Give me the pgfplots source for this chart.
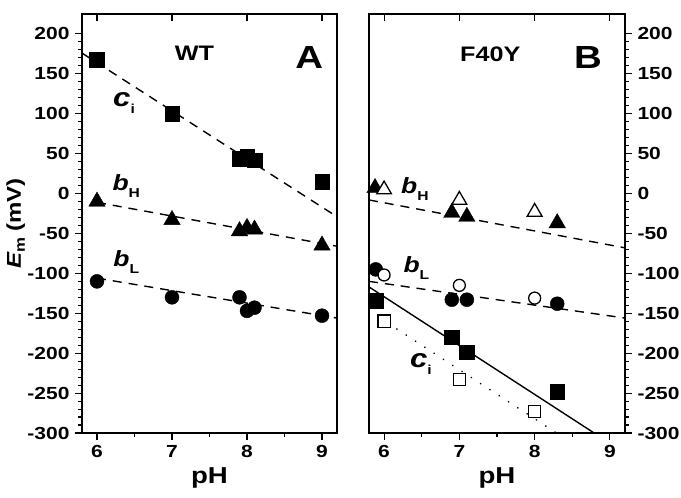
\documentclass[border=0pt]{standalone}
\usepackage{pgfplots}
\pgfplotsset{compat=1.18}
\usepackage{fontspec}
\setmainfont[FakeStretch=1.2]{Liberation Sans}

\newcommand{\fs}[1]{\fontsize{#1}{#1}\selectfont\bfseries}
\newcommand{\sym}[3]{{\fs{#1}\itshape #2}\raisebox{-7pt}{\fs{13}#3}}

\pgfplotsset{
  panel/.style={
    scale only axis, height=419pt,
    xmin=5.8, xmax=9.2, ymin=-300, ymax=225,
    xtick={6,7,8,9}, ytick={-300,-250,...,200},
    minor x tick num=1, minor y tick num=4,
    xtick pos=bottom, tick align=outside,
    major tick length=7pt, minor tick length=4pt,
    every tick/.style={black, line width=1.1pt},
    axis line style={line width=1.3pt},
    tick label style={font=\fs{17.5}},
    xticklabel style={yshift=-2pt},
    /pgf/number format/assume math mode=true,
    xlabel={pH},
    xlabel style={font=\fs{23}, at={(axis description cs:0.5,-0.107)}, anchor=center},
  },
  topticks/.style={
    scale only axis, height=419pt,
    xmin=5.8, xmax=9.2, ymin=-300, ymax=225,
    axis x line*=top, hide y axis,
    xtick={6,7,8,9}, xticklabels={}, tick align=inside,
    major tick length=7pt,
    every tick/.style={black, line width=1.1pt},
    axis line style={draw=none},
  },
  fit/.style={black, line width=1.4pt, dash pattern=on 9pt off 7pt},
  fsq/.style={only marks, mark=square*, mark size=7.3pt, mark options={fill=black, draw=black}},
  ftri/.style={only marks, mark=triangle*, mark size=9.5pt, mark options={fill=black, draw=black}},
  fcir/.style={only marks, mark=*, mark size=7pt, mark options={fill=black, draw=black}},
  osq/.style={only marks, mark=square*, mark size=6.2pt, mark options={fill=white, draw=black, line width=1.3pt}},
  otri/.style={only marks, mark=triangle*, mark size=8.5pt, mark options={fill=white, draw=black, line width=1.3pt}},
  ocir/.style={only marks, mark=*, mark size=6pt, mark options={fill=white, draw=black, line width=1.3pt}},
}

\begin{document}
\begin{tikzpicture}
% panel A: WT
\begin{axis}[panel, at={(82pt,65pt)}, anchor=south west, width=255pt,
    ytick pos=left, yticklabel style={xshift=-2pt},
    ylabel={{\itshape E}\raisebox{-4pt}{\fs{14}m} (mV)},
    ylabel style={font=\fs{20}, at={(axis description cs:-0.26,0.5)}, anchor=center}]
\addplot[fit] coordinates {(5.8,176) (9.2,-29)};
\addplot[fit] coordinates {(6.0,-11) (9.2,-66)};
\addplot[fit] coordinates {(6.0,-106) (9.2,-156)};
\addplot[fsq] coordinates {(6,168) (7,100) (7.9,44) (8,47) (8.1,42) (9,15)};
\addplot[ftri] coordinates {(6,-10) (7,-33) (7.9,-47) (8,-43) (8.1,-45) (9,-65)};
\addplot[fcir] coordinates {(6,-110) (7,-130) (7.9,-130) (8,-147) (8.1,-143) (9,-153)};
\node[font=\fs{21}] at (axis cs:7.3,176) {WT};
\node[font=\fs{32}] at (axis cs:8.83,171) {A};
\node at (axis cs:6.36,113) {\sym{26}{c}{i}};
\node at (axis cs:6.39,9) {\sym{22}{b}{H}};
\node at (axis cs:6.39,-86) {\sym{22}{b}{L}};
\end{axis}
\begin{axis}[topticks, at={(82pt,65pt)}, anchor=south west, width=255pt]
\end{axis}
% panel B: F40Y
\begin{axis}[panel, at={(369pt,65pt)}, anchor=south west, width=256pt,
    ytick pos=right, yticklabel pos=right, yticklabel style={xshift=2pt}]
\addplot[fit] coordinates {(5.8,-8) (9.2,-68)};
\addplot[fit] coordinates {(5.8,-110) (9.2,-156)};
\addplot[black, line width=1.4pt] coordinates {(5.8,-117) (8.79,-300)};
\addplot[black, line width=1.8pt, dash pattern=on 0.1pt off 11pt, line cap=round] coordinates {(5.8,-147) (8.29,-300)};
\addplot[ftri] coordinates {(5.88,7) (6.9,-24) (7.1,-29) (8.3,-37)};
\addplot[otri] coordinates {(6.0,5) (7.0,-8) (8.0,-23)};
\addplot[fcir] coordinates {(5.89,-95) (6.9,-133) (7.1,-133) (8.3,-138)};
\addplot[ocir] coordinates {(6.0,-102) (7.0,-115) (8.0,-131)};
\addplot[fsq] coordinates {(5.89,-134) (6.9,-180) (7.1,-199) (8.3,-248)};
\addplot[osq] coordinates {(6.0,-160) (7.0,-233) (8.0,-273)};
\node[font=\fs{21}] at (axis cs:7.41,174) {F40Y};
\node[font=\fs{32}] at (axis cs:8.71,171) {B};
\node at (axis cs:6.41,6) {\sym{22}{b}{H}};
\node at (axis cs:6.43,-93) {\sym{22}{b}{L}};
\node at (axis cs:6.49,-213) {\sym{26}{c}{i}};
\end{axis}
\begin{axis}[topticks, at={(369pt,65pt)}, anchor=south west, width=256pt]
\end{axis}
\pgfresetboundingbox
\path[use as bounding box] (0,0) rectangle (681pt,498pt);
\end{tikzpicture}
\end{document}
